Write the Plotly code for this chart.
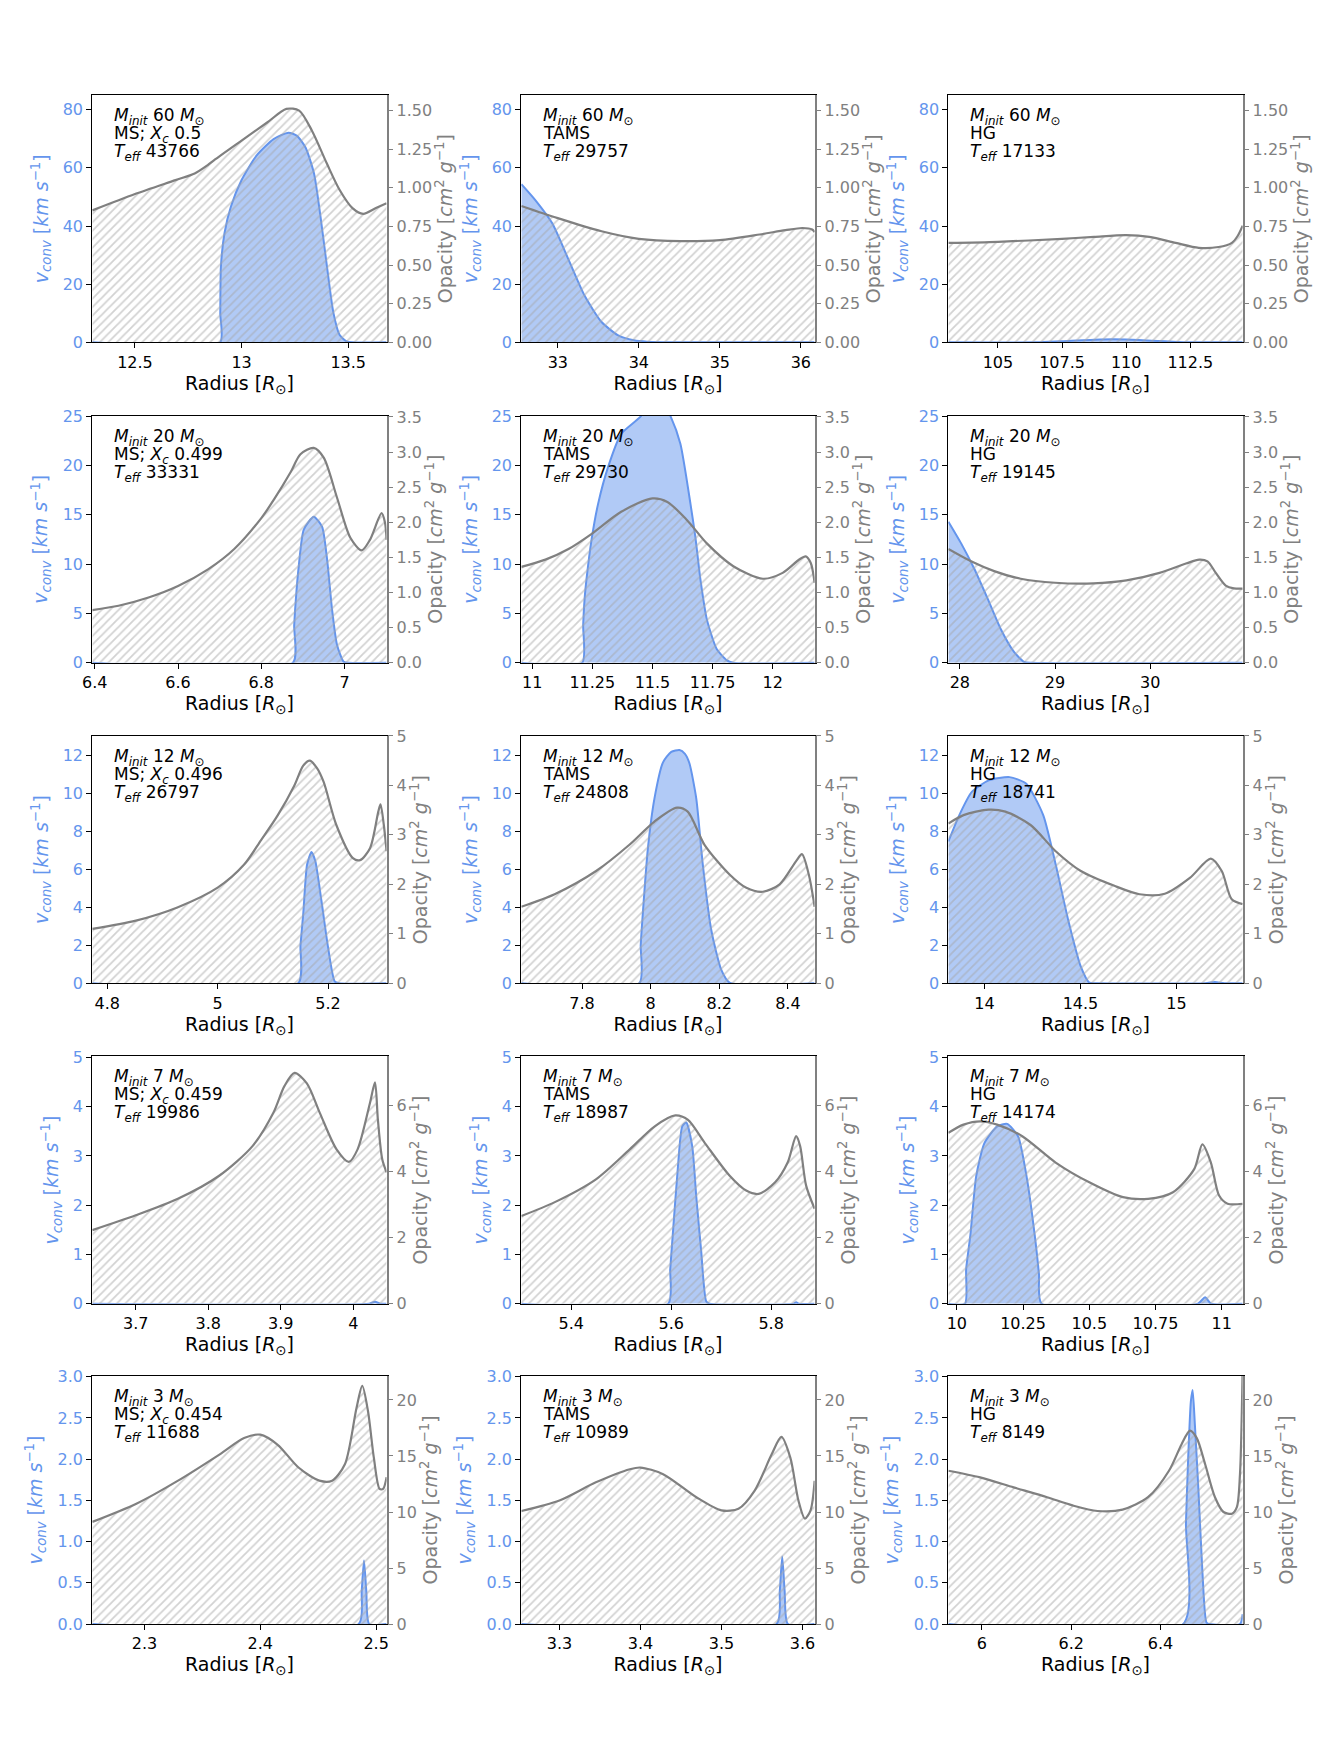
import plotly.graph_objects as go

# ---------------- data ----------------
# radius [Rsun], opacity [cm2/g], convective velocity [km/s]

# 60 Msun
r_k_60_ms = [12.30, 12.5, 12.69, 12.78, 12.84, 12.87, 13.0, 13.12, 13.21, 13.27, 13.33, 13.40, 13.46, 13.52, 13.57, 13.63, 13.68]
k_60_ms = [0.854, 0.96, 1.05, 1.093, 1.146, 1.178, 1.306, 1.423, 1.511, 1.50, 1.37, 1.157, 0.986, 0.869, 0.832, 0.869, 0.90]
r_v_60_ms = [12.30, 12.899, 12.900, 12.903, 12.92, 12.95, 13.0, 13.07, 13.15, 13.22, 13.26, 13.30, 13.34, 13.37, 13.40, 13.43, 13.46, 13.49, 13.52, 13.68]
v_60_ms = [0, 0, 10, 26, 37.6, 46.7, 55.8, 64.2, 69.9, 72.1, 71.0, 67.0, 58.0, 43.3, 26.3, 10.4, 2.5, 0.45, 0, 0]

r_k_60_tams = [32.55, 33.0, 33.54, 34.0, 34.51, 35.0, 35.49, 35.81, 36.02, 36.14, 36.17]
k_60_tams = [0.883, 0.804, 0.719, 0.67, 0.655, 0.662, 0.698, 0.726, 0.74, 0.73, 0.713]
r_v_60_tams = [32.55, 32.72, 32.93, 33.13, 33.33, 33.54, 33.74, 33.94, 34.1, 34.5, 36.17]
v_60_tams = [54.4, 49, 41, 28.6, 16.1, 7.0, 2.5, 0.7, 0.2, 0, 0]

r_k_60_hg = [103.07, 105, 107.5, 108.75, 110, 110.9, 111.93, 112.83, 113.6, 114.12, 114.35, 114.54]
k_60_hg = [0.644, 0.651, 0.67, 0.683, 0.694, 0.683, 0.644, 0.612, 0.617, 0.644, 0.69, 0.755]
r_v_60_hg = [103.07, 106.5, 107.5, 109, 110, 111, 112, 112.5, 114.54]
v_60_hg = [0, 0, 0.4, 1.0, 1.0, 0.6, 0.1, 0, 0]

# 20 Msun
r_k_20_ms = [6.394, 6.457, 6.529, 6.60, 6.672, 6.735, 6.80, 6.831, 6.871, 6.894, 6.926, 6.950, 6.982, 7.014, 7.041, 7.061, 7.089, 7.097, 7.101]
k_20_ms = [0.751, 0.812, 0.929, 1.093, 1.33, 1.62, 2.06, 2.33, 2.72, 2.97, 3.06, 2.92, 2.35, 1.78, 1.60, 1.75, 2.13, 2.0, 1.75]
r_v_20_ms = [6.394, 6.876, 6.879, 6.884, 6.890, 6.902, 6.926, 6.946, 6.958, 6.970, 6.982, 6.998, 7.01, 7.101]
v_20_ms = [0, 0, 3.8, 7.0, 9.8, 13.5, 14.8, 13.8, 10.5, 5.4, 1.8, 0.1, 0, 0]

r_k_20_tams = [10.955, 11.055, 11.151, 11.249, 11.37, 11.5, 11.562, 11.644, 11.726, 11.836, 11.959, 12.041, 12.11, 12.137, 12.158, 12.174]
k_20_tams = [1.366, 1.469, 1.62, 1.84, 2.15, 2.34, 2.29, 2.03, 1.70, 1.375, 1.197, 1.28, 1.47, 1.516, 1.42, 1.14]
r_v_20_tams = [10.955, 11.208, 11.212, 11.218, 11.226, 11.247, 11.274, 11.315, 11.37, 11.452, 11.515, 11.575, 11.616, 11.658, 11.678, 11.699, 11.726, 11.767, 11.808, 11.836, 12.174]
v_20_tams = [0, 0, 3.8, 6.5, 8.5, 12.5, 16.1, 19.8, 23.2, 25.0, 27.6, 25.0, 22.2, 16.1, 12.8, 8.5, 4.4, 1.4, 0.27, 0, 0]

r_k_20_hg = [27.88, 28.118, 28.361, 28.639, 29.0, 29.403, 29.75, 30.097, 30.375, 30.514, 30.601, 30.688, 30.792, 30.878, 30.97]
k_20_hg = [1.62, 1.445, 1.305, 1.197, 1.14, 1.131, 1.173, 1.28, 1.413, 1.469, 1.445, 1.28, 1.10, 1.06, 1.056]
r_v_20_hg = [27.88, 28.014, 28.153, 28.292, 28.431, 28.569, 28.674, 28.75, 30.97]
v_20_hg = [14.3, 12.1, 9.5, 6.5, 3.4, 1.1, 0.1, 0, 0]

# 12 Msun
r_k_12_ms = [4.773, 4.852, 4.927, 5.0, 5.048, 5.079, 5.109, 5.139, 5.155, 5.167, 5.18, 5.192, 5.215, 5.245, 5.258, 5.276, 5.291, 5.295, 5.301, 5.306]
k_12_ms = [1.10, 1.267, 1.533, 1.933, 2.4, 2.9, 3.4, 4.0, 4.4, 4.5, 4.35, 4.07, 3.2, 2.53, 2.49, 2.73, 3.47, 3.62, 3.2, 2.67]
r_v_12_ms = [4.773, 5.146, 5.150, 5.155, 5.162, 5.170, 5.177, 5.188, 5.20, 5.212, 5.22, 5.306]
v_12_ms = [0, 0, 2.0, 3.65, 6.26, 6.92, 6.43, 4.35, 1.9, 0.1, 0, 0]

r_k_12_tams = [7.623, 7.72, 7.841, 7.938, 8.011, 8.077, 8.108, 8.157, 8.23, 8.279, 8.327, 8.376, 8.424, 8.441, 8.461, 8.478]
k_12_tams = [1.547, 1.8, 2.27, 2.8, 3.27, 3.55, 3.47, 2.8, 2.2, 1.93, 1.85, 2.0, 2.47, 2.61, 2.2, 1.547]
r_v_12_tams = [7.623, 7.967, 7.971, 7.977, 7.992, 8.011, 8.036, 8.06, 8.084, 8.10, 8.113, 8.133, 8.152, 8.177, 8.206, 8.23, 8.478]
v_12_tams = [0, 0, 2.0, 3.65, 7.13, 9.74, 11.65, 12.2, 12.3, 12.1, 11.6, 9.74, 6.26, 2.78, 0.7, 0.03, 0]

r_k_12_hg = [13.812, 13.891, 14.022, 14.109, 14.24, 14.371, 14.502, 14.677, 14.808, 14.939, 15.07, 15.179, 15.236, 15.288, 15.345]
k_12_hg = [3.23, 3.4, 3.51, 3.47, 3.2, 2.67, 2.27, 1.97, 1.8, 1.81, 2.13, 2.52, 2.27, 1.7, 1.6]
r_v_12_hg = [13.812, 13.869, 13.934, 14.022, 14.131, 14.218, 14.306, 14.371, 14.437, 14.502, 14.546, 14.59, 15.15, 15.2, 15.25, 15.345]
v_12_hg = [7.48, 8.87, 10.09, 10.7, 10.87, 10.52, 8.87, 6.26, 3.3, 0.87, 0.03, 0, 0, 0.06, 0, 0]

# 7 Msun
r_k_7_ms = [3.64, 3.70, 3.758, 3.815, 3.861, 3.89, 3.905, 3.919, 3.936, 3.954, 3.977, 3.994, 4.006, 4.023, 4.03, 4.034, 4.04, 4.046]
k_7_ms = [2.23, 2.68, 3.18, 3.88, 4.78, 5.8, 6.6, 7.0, 6.68, 5.78, 4.68, 4.3, 4.68, 6.08, 6.71, 5.58, 4.38, 3.98]
r_v_7_ms = [3.64, 4.022, 4.03, 4.037, 4.046]
v_7_ms = [0, 0, 0.04, 0, 0]

r_k_7_tams = [5.3, 5.367, 5.45, 5.517, 5.567, 5.608, 5.633, 5.667, 5.717, 5.75, 5.775, 5.808, 5.833, 5.85, 5.858, 5.87, 5.887]
k_7_tams = [2.66, 3.08, 3.78, 4.68, 5.38, 5.71, 5.58, 4.88, 3.88, 3.43, 3.33, 3.68, 4.28, 5.08, 4.78, 3.58, 2.88]
r_v_7_tams = [5.3, 5.594, 5.598, 5.603, 5.613, 5.622, 5.63, 5.642, 5.65, 5.66, 5.67, 5.677, 5.845, 5.85, 5.855, 5.887]
v_7_tams = [0, 0, 0.7, 1.39, 2.73, 3.6, 3.68, 3.2, 2.19, 1.06, 0.05, 0, 0, 0.03, 0, 0]

r_k_7_hg = [9.968, 10.025, 10.089, 10.152, 10.247, 10.373, 10.5, 10.627, 10.722, 10.816, 10.896, 10.927, 10.959, 10.99, 11.022, 11.079]
k_7_hg = [5.18, 5.43, 5.53, 5.43, 5.08, 4.28, 3.68, 3.23, 3.18, 3.38, 4.08, 4.83, 4.28, 3.28, 3.03, 3.03]
r_v_7_hg = [9.968, 10.031, 10.035, 10.051, 10.073, 10.104, 10.152, 10.19, 10.231, 10.263, 10.294, 10.31, 10.32, 10.91, 10.937, 10.96, 11.079]
v_7_hg = [0, 0, 0.7, 1.39, 2.59, 3.26, 3.6, 3.65, 3.4, 2.59, 1.39, 0.6, 0, 0, 0.13, 0, 0]

# 3 Msun
r_k_3_ms = [2.255, 2.293, 2.329, 2.365, 2.386, 2.40, 2.415, 2.433, 2.451, 2.462, 2.473, 2.483, 2.488, 2.493, 2.498, 2.503, 2.506, 2.509]
k_3_ms = [9.12, 10.74, 12.8, 15.15, 16.6, 16.9, 16.0, 13.97, 12.8, 12.8, 14.26, 19.26, 21.26, 18.97, 14.85, 12.06, 12.06, 13.1]
r_v_3_ms = [2.255, 2.485, 2.4875, 2.4895, 2.4915, 2.494, 2.509]
v_3_ms = [0, 0, 0.4, 0.77, 0.4, 0, 0]

r_k_3_tams = [3.253, 3.3, 3.345, 3.387, 3.4, 3.428, 3.469, 3.5, 3.521, 3.541, 3.562, 3.574, 3.585, 3.595, 3.603, 3.61, 3.615]
k_3_tams = [10.09, 11.03, 12.65, 13.82, 13.97, 13.38, 11.32, 10.15, 10.29, 11.91, 15.15, 16.7, 14.85, 11.03, 9.41, 10.15, 12.79]
r_v_3_tams = [3.253, 3.568, 3.572, 3.575, 3.578, 3.582, 3.615]
v_3_tams = [0, 0, 0.4, 0.82, 0.4, 0, 0]

r_k_3_hg = [5.925, 5.996, 6.071, 6.146, 6.203, 6.259, 6.315, 6.372, 6.419, 6.447, 6.466, 6.481, 6.5, 6.522, 6.541, 6.56, 6.571, 6.578, 6.584]
k_3_hg = [13.68, 13.09, 12.2, 11.32, 10.59, 10.09, 10.21, 11.32, 13.68, 16.03, 17.26, 16.62, 14.26, 11.32, 10.0, 9.85, 10.44, 13.38, 23.0]
r_v_3_hg = [5.925, 6.451, 6.457, 6.462, 6.468, 6.472, 6.477, 6.485, 6.494, 6.503, 6.51, 6.578, 6.584]
v_3_hg = [0, 0, 1.22, 2.02, 2.7, 2.84, 2.42, 1.62, 0.62, 0.02, 0, 0, 0.12]

# panel labels
masses = [60, 20, 12, 7, 3]
x_center = ['0.5', '0.499', '0.496', '0.459', '0.454']
teff = [[43766, 29757, 17133], [33331, 29730, 19145], [26797, 24808, 18741],
        [19986, 18987, 14174], [11688, 10989, 8149]]

# radius ticks per panel
xticks = [[12.5, 13, 13.5], [33, 34, 35, 36], [105, 107.5, 110, 112.5],
          [6.4, 6.6, 6.8, 7], [11, 11.25, 11.5, 11.75, 12], [28, 29, 30],
          [4.8, 5, 5.2], [7.8, 8, 8.2, 8.4], [14, 14.5, 15],
          [3.7, 3.8, 3.9, 4], [5.4, 5.6, 5.8], [10, 10.25, 10.5, 10.75, 11],
          [2.3, 2.4, 2.5], [3.3, 3.4, 3.5, 3.6], [6, 6.2, 6.4]]

# axis limits per row
v_top = [85, 25.05, 13.04, 5.02, 3.01]
v_dtick = [20, 5, 2, 1, 0.5]
v_fmt = ['d', 'd', 'd', 'd', '.1f']
k_top = [1.6, 3.52, 5.0, 7.5, 22.15]
k_dtick = [0.25, 0.5, 1, 2, 5]
k_fmt = ['.2f', '.1f', 'd', 'd', 'd']

curves = [
    (r_k_60_ms, k_60_ms, r_v_60_ms, v_60_ms), (r_k_60_tams, k_60_tams, r_v_60_tams, v_60_tams), (r_k_60_hg, k_60_hg, r_v_60_hg, v_60_hg),
    (r_k_20_ms, k_20_ms, r_v_20_ms, v_20_ms), (r_k_20_tams, k_20_tams, r_v_20_tams, v_20_tams), (r_k_20_hg, k_20_hg, r_v_20_hg, v_20_hg),
    (r_k_12_ms, k_12_ms, r_v_12_ms, v_12_ms), (r_k_12_tams, k_12_tams, r_v_12_tams, v_12_tams), (r_k_12_hg, k_12_hg, r_v_12_hg, v_12_hg),
    (r_k_7_ms, k_7_ms, r_v_7_ms, v_7_ms), (r_k_7_tams, k_7_tams, r_v_7_tams, v_7_tams), (r_k_7_hg, k_7_hg, r_v_7_hg, v_7_hg),
    (r_k_3_ms, k_3_ms, r_v_3_ms, v_3_ms), (r_k_3_tams, k_3_tams, r_v_3_tams, v_3_tams), (r_k_3_hg, k_3_hg, r_v_3_hg, v_3_hg),
]

# ---------------- layout ----------------
# page body has an 8px margin, so the figure is a bit smaller than the window
OFF = 8
W, H = 1324 - 2 * OFF, 1740 - 2 * OFF
COLS = [(83, 380), (516, 812), (947, 1244)]
ROWS = [(87, 337), (411, 661), (735, 985), (1059, 1309), (1382, 1633)]
BLUE = '#6495ED'
GREY = '#808080'

fig = go.Figure()
layout = dict(width=W, height=H, margin=dict(l=0, r=0, t=0, b=0),
              paper_bgcolor='white', plot_bgcolor='white', showlegend=False,
              font=dict(family='DejaVu Sans', size=16, color='black'))
annotations = []

for i, (rk, k, rv, v) in enumerate(curves):
    row, col = divmod(i, 3)
    n = i + 1
    xa = 'x' if n == 1 else f'x{n}'
    ya = 'y' if n == 1 else f'y{2*n-1}'
    yb = f'y{2*n}'
    xkey = 'xaxis' if n == 1 else f'xaxis{n}'
    ykey = 'yaxis' if n == 1 else f'yaxis{2*n-1}'

    # convective velocity (left axis)
    fig.add_trace(go.Scatter(x=rv, y=v, xaxis=xa, yaxis=ya, mode='lines',
                             line=dict(color=BLUE, width=2, shape='spline', smoothing=0.6),
                             fill='tozeroy', fillcolor='rgba(100,149,237,0.5)'))
    # opacity (right axis), hatched
    fig.add_trace(go.Scatter(x=rk, y=k, xaxis=xa, yaxis=yb, mode='lines',
                             line=dict(color=GREY, width=2.2, shape='spline', smoothing=0.8),
                             fill='tozeroy', fillcolor='rgba(255,255,255,0)',
                             fillpattern=dict(shape='/', fgcolor='#a6a6a6', bgcolor='rgba(255,255,255,0)',
                                              size=6, solidity=0.3)))

    x0, x1 = COLS[col]
    y0, y1 = ROWS[row]
    layout[xkey] = dict(domain=[(x0 - OFF) / W, (x1 - OFF) / W], anchor=ya, range=[rk[0], rk[-1]],
                        tickvals=xticks[i], ticks='outside', ticklen=5, tickcolor='black',
                        showline=True, linecolor='black', linewidth=1.2, mirror=True,
                        showgrid=False, zeroline=False,
                        title=dict(text='Radius [<i>R</i><sub>⊙</sub>]', standoff=4))
    layout[ykey] = dict(domain=[1 - (y1 - OFF) / H, 1 - (y0 - OFF) / H], anchor=xa, range=[0, v_top[row]],
                        dtick=v_dtick[row], tick0=0, tickformat=v_fmt[row],
                        ticks='outside', ticklen=5, tickcolor='black',
                        tickfont=dict(color=BLUE), showline=True, linecolor='black', linewidth=1.2,
                        showgrid=False, zeroline=False,
                        title=dict(text='<i>v</i><sub><i>conv</i></sub> [<i>km s</i><sup>−1</sup>]',
                                   font=dict(color=BLUE), standoff=9))
    layout[f'yaxis{2*n}'] = dict(overlaying=ya, side='right', anchor=xa, range=[0, k_top[row]],
                                 dtick=k_dtick[row], tick0=0, tickformat=k_fmt[row],
                                 ticks='outside', ticklen=5, tickcolor=GREY,
                                 tickfont=dict(color=GREY), showline=True, linecolor=GREY, linewidth=1.5,
                                 showgrid=False, zeroline=False,
                                 title=dict(text='Opacity [<i>cm</i><sup>2</sup> <i>g</i><sup>−1</sup>]',
                                            font=dict(color=GREY), standoff=6))

    # panel text
    if col == 0:
        phase = f'MS; <i>X</i><sub><i>c</i></sub> {x_center[row]}'
    elif col == 1:
        phase = 'TAMS'
    else:
        phase = 'HG'
    lines = [f'<i>M</i><sub><i>init</i></sub> {masses[row]} <i>M</i><sub>⊙</sub>',
             phase,
             f'<i>T</i><sub><i>eff</i></sub> {teff[row][col]}']
    for j, txt in enumerate(lines):
        annotations.append(dict(text=txt, xref=f'{xa} domain', yref=f'{ya} domain',
                                x=0.067, y=1, xanchor='left', yanchor='top',
                                yshift=-8 - 18 * j, showarrow=False,
                                font=dict(size=17, color='black')))

layout['annotations'] = annotations
fig.update_layout(layout)
fig.write_html("out.html")
